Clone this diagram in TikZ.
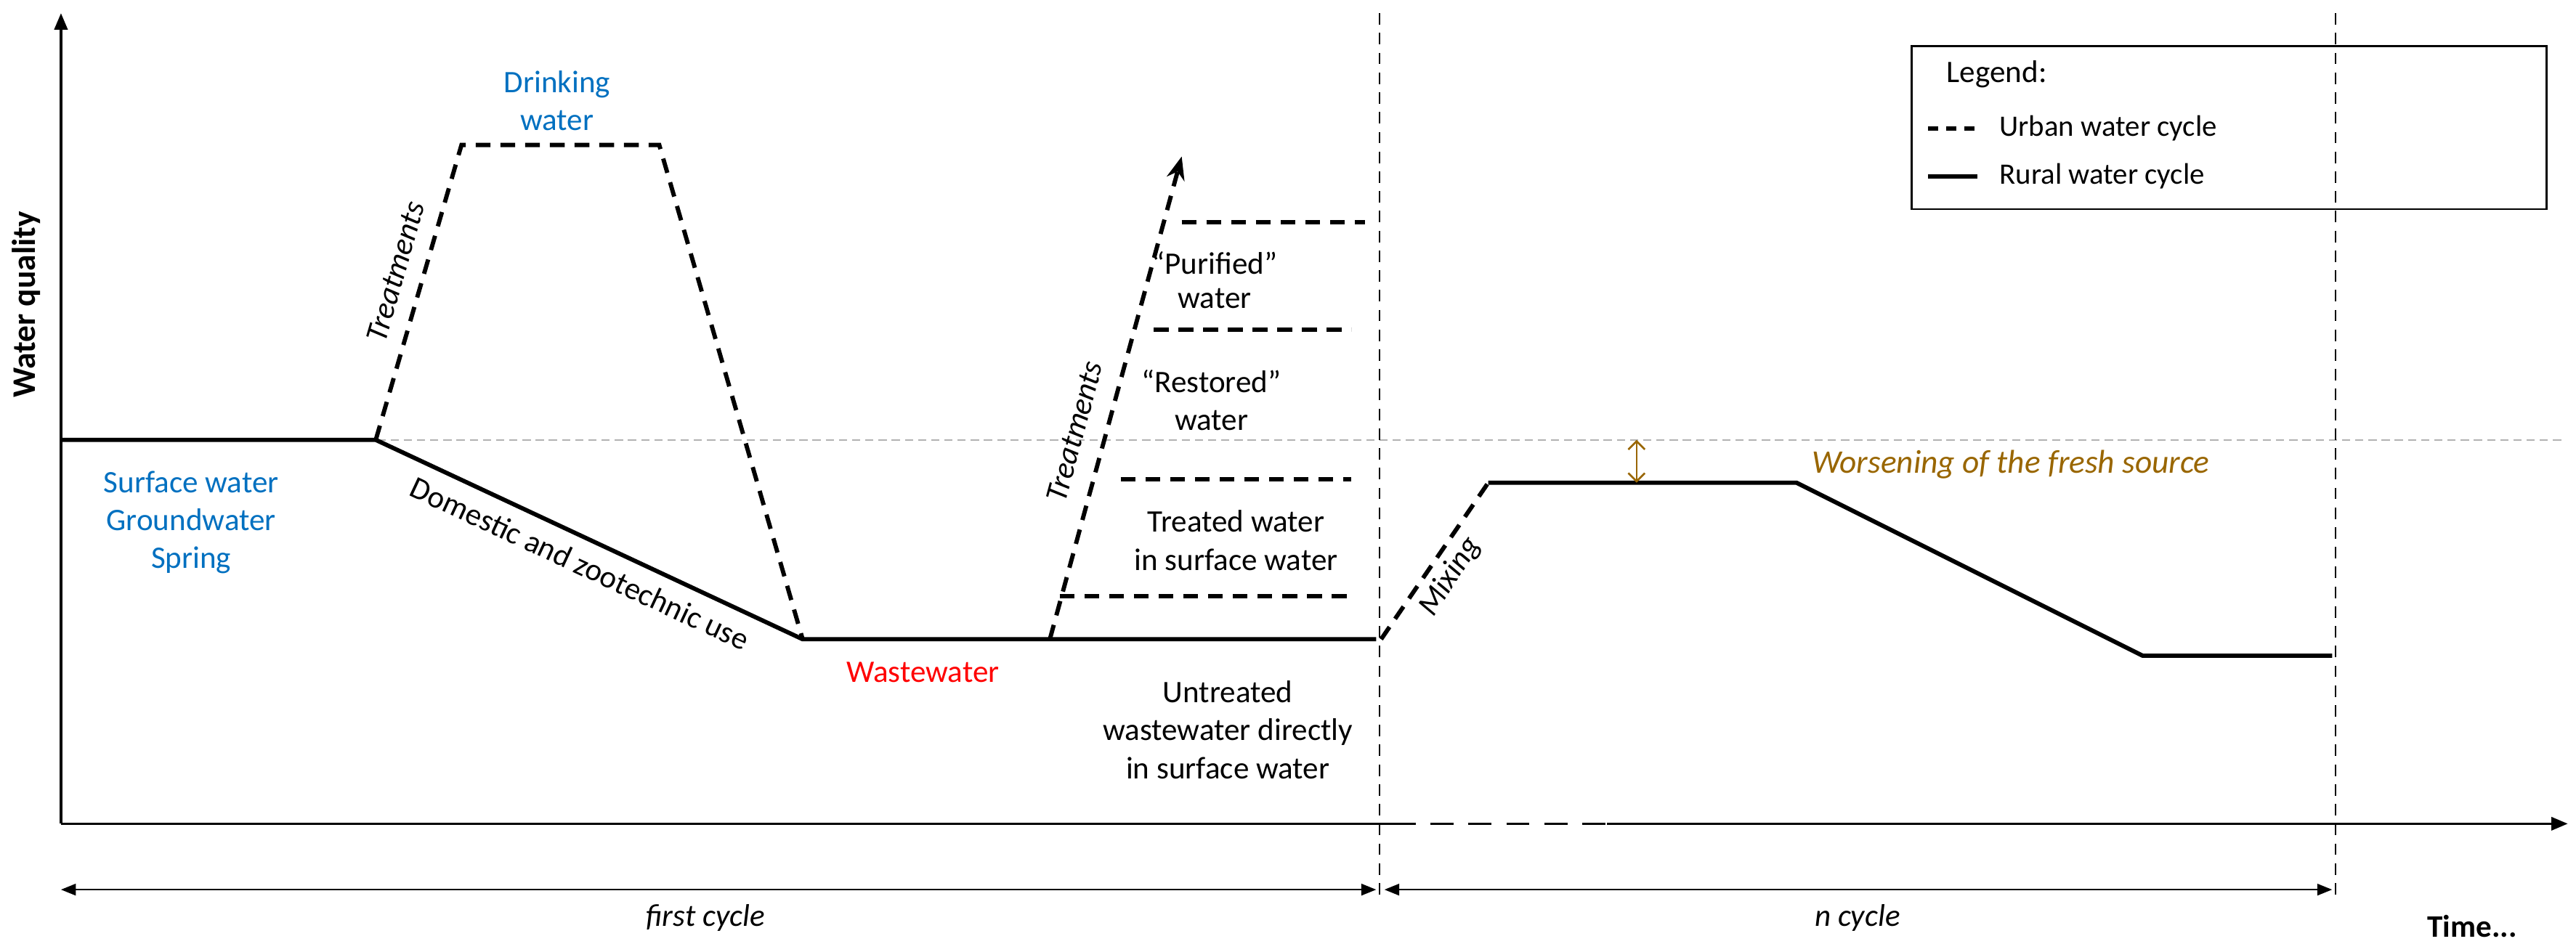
\documentclass[tikz,border=0pt]{standalone}
\usepackage{fontspec}
\setmainfont{Carlito}
\usetikzlibrary{arrows.meta}
\definecolor{xblue}{RGB}{0,112,192}
\definecolor{xbrown}{RGB}{153,102,0}
\begin{document}
\begin{tikzpicture}[x=1pt,y=-1pt,
  rural/.style={line width=2.6pt},
  urban/.style={line width=2.6pt,dash pattern=on 9pt off 6pt},
  thin/.style={line width=1pt},
  vdash/.style={line width=1pt,dash pattern=on 7pt off 5pt},
  lbl/.style={font=\fontsize{19}{23}\selectfont,align=center,inner sep=1pt},
  ax/.style={line width=1.5pt,-{Triangle[length=10pt,width=8pt]}}]
\useasboundingbox (0,0) rectangle (1563,573);
% axes
\coordinate (O) at (37,500);
\coordinate (Ytop) at (37,8);
\coordinate (Xa) at (845,500);
\coordinate (Xb) at (975,500);
\coordinate (Xend) at (1558,500);
\draw[ax] (O) -- (Ytop);
\draw[line width=1.5pt] (O) -- (Xa);
\draw[line width=1.5pt,dash pattern=on 14pt off 9pt] (Xa) -- (Xb);
\draw[ax] (Xb) -- (Xend);
% reference line
\coordinate (g1) at (37,267); \coordinate (g2) at (1555,267);
\draw[gray!60,line width=0.8pt,dash pattern=on 5pt off 3pt] (g1) -- (g2);
% verticals
\coordinate (v1a) at (837,8); \coordinate (v1b) at (837,545);
\coordinate (v2a) at (1417,8); \coordinate (v2b) at (1417,545);
\draw[vdash] (v1a) -- (v1b);
\draw[vdash] (v2a) -- (v2b);
% rural
\coordinate (r1) at (37,267); \coordinate (r2) at (228,267);
\coordinate (r3) at (487,388); \coordinate (r4) at (835,388);
\coordinate (r5) at (903,293); \coordinate (r6) at (1090,293);
\coordinate (r7) at (1300,398); \coordinate (r8) at (1415,398);
\draw[rural,line join=round] (r1) -- (r2) -- (r3) -- (r4);
\draw[rural,line join=round] (r5) -- (r6) -- (r7) -- (r8);
% urban
\coordinate (u1) at (280,88); \coordinate (u2) at (400,88);
\draw[urban] (r2) -- (u1) -- (u2) -- (r3);
\coordinate (t0) at (637,388); \coordinate (t1) at (717,95);
\draw[urban,-{Stealth[length=14pt,width=11pt]}] (t0) -- (t1);
\coordinate (h1a) at (717,135); \coordinate (h1b) at (828,135);
\coordinate (h2a) at (700,200); \coordinate (h2b) at (820,200);
\coordinate (h3a) at (680,291); \coordinate (h3b) at (820,291);
\coordinate (h4a) at (643,362); \coordinate (h4b) at (820,362);
\draw[urban] (h1a) -- (h1b);
\draw[urban] (h2a) -- (h2b);
\draw[urban] (h3a) -- (h3b);
\draw[urban] (h4a) -- (h4b);
\coordinate (m0) at (838,388);
\draw[urban] (m0) -- (r5);
% worsening
\coordinate (w1) at (993,267); \coordinate (w2) at (993,293);
\draw[xbrown,line width=1.2pt,{Straight Barb[length=5pt]}-{Straight Barb[length=5pt]}] (w1) -- (w2);
\node[lbl,text=xbrown,font=\fontsize{20}{24}\selectfont\itshape] (worse) at (1220,282) {Worsening of the fresh source};
% bottom arrows
\coordinate (b1) at (37,540); \coordinate (b2) at (835,540);
\coordinate (b3) at (840,540); \coordinate (b4) at (1415,540);
\draw[line width=1pt,{Triangle[length=9pt,width=7pt]}-{Triangle[length=9pt,width=7pt]}] (b1) -- (b2);
\draw[line width=1pt,{Triangle[length=9pt,width=7pt]}-{Triangle[length=9pt,width=7pt]}] (b3) -- (b4);
\node[lbl,font=\fontsize{19}{23}\selectfont\itshape] (fc) at (428,557) {first cycle};
\node[lbl,font=\fontsize{19}{23}\selectfont\itshape] (nc) at (1127,557) {n cycle};
\node[lbl,font=\fontsize{19}{23}\selectfont\bfseries] (time) at (1500,562) {Time...};
\node[lbl,font=\fontsize{20}{24}\selectfont\bfseries,rotate=90] (wq) at (16,185) {Water quality};
% legend
\node[draw,line width=1.2pt,minimum width=385pt,minimum height=99pt] (leg) at (1352.5,77.5) {};
\node[lbl,anchor=west] (legt) at (1180,45) {Legend:};
\coordinate (la1) at (1170,78); \coordinate (la2) at (1200,78);
\coordinate (lb1) at (1170,107); \coordinate (lb2) at (1200,107);
\draw[line width=2.4pt,dash pattern=on 6pt off 5pt] (la1) -- (la2);
\draw[line width=2.6pt] (lb1) -- (lb2);
\node[lbl,anchor=west,font=\fontsize{18}{22}\selectfont] (lu) at (1212,78) {Urban water cycle};
\node[lbl,anchor=west,font=\fontsize{18}{22}\selectfont] (lr) at (1212,107) {Rural water cycle};
% labels
\node[lbl,text=xblue] (sw) at (116,317) {Surface water\\Groundwater\\Spring};
\node[lbl,text=xblue] (dw) at (338,61) {Drinking\\water};
\node[lbl,font=\fontsize{19}{23}\selectfont\itshape,rotate=74] (tr1) at (240,165) {Treatments};
\node[lbl,font=\fontsize{19}{23}\selectfont\itshape,rotate=75] (tr2) at (652,262) {Treatments};
\node[lbl,rotate=-25] (dom) at (352,342) {Domestic and zootechnic use};
\node[lbl,text=red] (ww) at (560,408) {Wastewater};
\node[lbl] (un) at (745,443) {Untreated\\wastewater directly\\in surface water};
\node[lbl] (tw) at (750,328) {Treated water\\in surface water};
\node[lbl] (rw) at (735,243) {“Restored”\\water};
\node[lbl,font=\fontsize{19}{21}\selectfont] (pw) at (737,170) {“Purified”\\water};
\node[lbl,font=\fontsize{19}{23}\selectfont\itshape,rotate=57] (mix) at (880,350) {Mixing};
\end{tikzpicture}
\end{document}
